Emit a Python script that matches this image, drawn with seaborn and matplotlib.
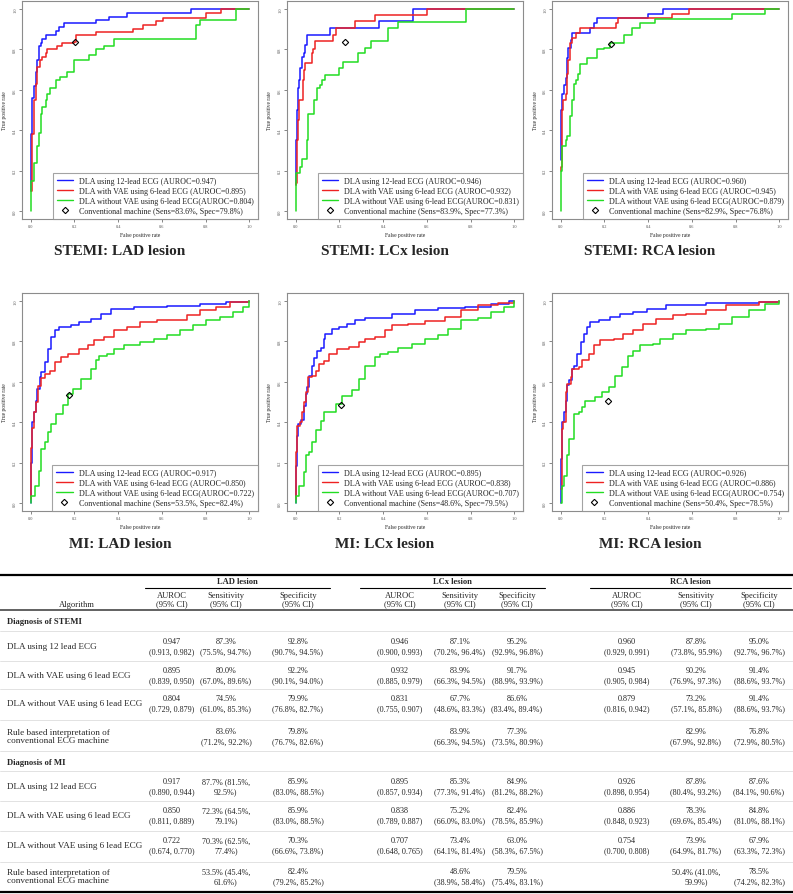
import matplotlib
matplotlib.use("Agg")
import matplotlib.pyplot as plt
from matplotlib.lines import Line2D
import pandas as pd
import seaborn as sns

# ---- ROC curve points (fpr, tpr) ----
stemi_lad_12 = [(0, 0.1), (0.003, 0.38), (0.005, 0.56), (0.015, 0.62), (0.023, 0.69), (0.03, 0.75),
                (0.038, 0.815), (0.045, 0.83), (0.053, 0.85), (0.068, 0.87), (0.114, 0.89), (0.129, 0.91),
                (0.15, 0.93), (0.30, 0.946), (0.356, 0.963), (0.44, 0.98), (0.735, 1.0), (1.0, 1.0)]
stemi_lad_vae = [(0, 0.1), (0.005, 0.38), (0.015, 0.55), (0.023, 0.63), (0.03, 0.715), (0.042, 0.75),
                 (0.053, 0.765), (0.068, 0.78), (0.076, 0.80), (0.12, 0.815), (0.144, 0.83), (0.197, 0.836),
                 (0.205, 0.87), (0.30, 0.886), (0.47, 0.90), (0.515, 0.92), (0.575, 0.94), (0.606, 0.955),
                 (0.80, 0.98), (0.87, 1.0), (1.0, 1.0)]
stemi_lad_novae = [(0, 0), (0.003, 0.15), (0.015, 0.235), (0.027, 0.32), (0.038, 0.385), (0.045, 0.48),
                   (0.053, 0.515), (0.068, 0.55), (0.076, 0.58), (0.09, 0.61), (0.114, 0.65), (0.136, 0.665),
                   (0.167, 0.69), (0.197, 0.75), (0.265, 0.773), (0.30, 0.80), (0.333, 0.815), (0.38, 0.85),
                   (0.742, 0.85), (0.758, 0.92), (0.773, 0.946), (0.91, 0.946), (0.94, 1.0), (1.0, 1.0)]

stemi_lcx_12 = [(0, 0.13), (0.003, 0.35), (0.006, 0.5), (0.012, 0.61), (0.017, 0.65), (0.021, 0.71),
                (0.027, 0.765), (0.039, 0.78), (0.042, 0.82), (0.05, 0.873), (0.156, 0.906), (0.383, 0.94),
                (0.535, 1.0), (1.0, 1.0)]
stemi_lcx_vae = [(0, 0.13), (0.003, 0.136), (0.008, 0.35), (0.012, 0.45), (0.017, 0.55), (0.032, 0.65),
                 (0.036, 0.70), (0.042, 0.735), (0.073, 0.78), (0.08, 0.80), (0.088, 0.84), (0.17, 0.873),
                 (0.186, 0.906), (0.273, 0.94), (0.364, 0.97), (0.6, 1.0), (1.0, 1.0)]
stemi_lcx_novae = [(0, 0), (0.003, 0.19), (0.02, 0.22), (0.027, 0.255), (0.05, 0.35), (0.058, 0.48),
                   (0.085, 0.55), (0.095, 0.61), (0.11, 0.624), (0.118, 0.65), (0.133, 0.674), (0.197, 0.707),
                   (0.217, 0.74), (0.285, 0.78), (0.315, 0.806), (0.345, 0.84), (0.42, 0.906), (0.467, 0.934),
                   (0.777, 1.0), (1.0, 1.0)]

stemi_rca_12 = [(0, 0.25), (0.003, 0.5), (0.008, 0.58), (0.015, 0.624), (0.023, 0.66), (0.03, 0.757),
                (0.033, 0.806), (0.045, 0.848), (0.053, 0.88), (0.136, 0.906), (0.151, 0.93), (0.166, 0.955),
                (0.40, 0.977), (0.47, 1.0), (1.0, 1.0)]
stemi_rca_vae = [(0, 0.2), (0.002, 0.22), (0.006, 0.5), (0.012, 0.55), (0.023, 0.58), (0.027, 0.68),
                 (0.033, 0.748), (0.042, 0.83), (0.053, 0.856), (0.072, 0.88), (0.09, 0.906), (0.254, 0.93),
                 (0.264, 0.955), (0.51, 0.977), (0.586, 1.0), (1.0, 1.0)]
stemi_rca_novae = [(0, 0), (0.002, 0.2), (0.008, 0.32), (0.023, 0.35), (0.03, 0.37), (0.042, 0.47),
                   (0.053, 0.55), (0.06, 0.63), (0.072, 0.65), (0.078, 0.68), (0.088, 0.73), (0.12, 0.757),
                   (0.166, 0.8), (0.196, 0.806), (0.227, 0.83), (0.29, 0.873), (0.325, 0.906), (0.363, 0.93),
                   (0.43, 0.95), (0.785, 0.977), (0.934, 1.0), (1.0, 1.0)]

mi_lad_12 = [(0, 0.0), (0.003, 0.2), (0.006, 0.4), (0.014, 0.45), (0.023, 0.507), (0.03, 0.565),
             (0.041, 0.623), (0.048, 0.648), (0.063, 0.698), (0.079, 0.764), (0.094, 0.82), (0.109, 0.855),
             (0.131, 0.87), (0.184, 0.88), (0.222, 0.896), (0.275, 0.912), (0.32, 0.937), (0.366, 0.959),
             (0.471, 0.97), (0.622, 0.975), (0.773, 0.987), (0.894, 0.995), (1.0, 1.0)]
mi_lad_vae = [(0, 0.02), (0.003, 0.27), (0.006, 0.37), (0.014, 0.45), (0.026, 0.5), (0.033, 0.58),
              (0.048, 0.62), (0.063, 0.64), (0.086, 0.656), (0.109, 0.698), (0.139, 0.722), (0.169, 0.74),
              (0.222, 0.764), (0.26, 0.78), (0.29, 0.805), (0.335, 0.82), (0.38, 0.855), (0.44, 0.87),
              (0.50, 0.896), (0.577, 0.904), (0.637, 0.904), (0.713, 0.93), (0.773, 0.954), (0.849, 0.97),
              (0.91, 0.995), (1.0, 1.0)]
mi_lad_novae = [(0, 0), (0.003, 0.036), (0.018, 0.086), (0.038, 0.16), (0.045, 0.268), (0.063, 0.3),
                (0.079, 0.35), (0.094, 0.39), (0.116, 0.44), (0.147, 0.483), (0.169, 0.54), (0.192, 0.565),
                (0.23, 0.615), (0.275, 0.665), (0.298, 0.707), (0.313, 0.73), (0.35, 0.74), (0.38, 0.764),
                (0.426, 0.78), (0.50, 0.797), (0.562, 0.814), (0.622, 0.83), (0.683, 0.855), (0.743, 0.88),
                (0.804, 0.904), (0.864, 0.92), (0.924, 0.945), (0.97, 0.97), (1.0, 1.0)]

mi_lcx_12 = [(0, 0.0), (0.003, 0.185), (0.006, 0.334), (0.012, 0.39), (0.023, 0.41), (0.038, 0.48),
             (0.045, 0.54), (0.053, 0.574), (0.061, 0.63), (0.073, 0.68), (0.083, 0.72), (0.098, 0.755),
             (0.114, 0.77), (0.129, 0.813), (0.136, 0.838), (0.167, 0.863), (0.197, 0.87), (0.235, 0.888),
             (0.273, 0.904), (0.318, 0.916), (0.44, 0.937), (0.545, 0.954), (0.652, 0.965), (0.773, 0.97),
             (0.894, 0.987), (0.977, 1.0), (1.0, 1.0)]
mi_lcx_vae = [(0, 0.02), (0.003, 0.25), (0.008, 0.383), (0.018, 0.4), (0.027, 0.45), (0.038, 0.5),
              (0.045, 0.55), (0.058, 0.623), (0.076, 0.63), (0.091, 0.656), (0.106, 0.69), (0.129, 0.705),
              (0.152, 0.74), (0.19, 0.764), (0.242, 0.773), (0.288, 0.797), (0.318, 0.814), (0.364, 0.822),
              (0.41, 0.855), (0.44, 0.88), (0.515, 0.888), (0.59, 0.9), (0.682, 0.92), (0.758, 0.954),
              (0.833, 0.983), (0.924, 0.99), (1.0, 1.0)]
mi_lcx_novae = [(0, 0), (0.003, 0.036), (0.015, 0.086), (0.038, 0.152), (0.045, 0.235), (0.061, 0.25),
                (0.076, 0.3), (0.091, 0.36), (0.114, 0.408), (0.129, 0.45), (0.167, 0.45), (0.182, 0.49),
                (0.212, 0.532), (0.258, 0.557), (0.288, 0.615), (0.318, 0.68), (0.364, 0.722), (0.386, 0.739),
                (0.424, 0.747), (0.47, 0.77), (0.53, 0.788), (0.59, 0.814), (0.652, 0.83), (0.697, 0.863),
                (0.758, 0.904), (0.833, 0.916), (0.894, 0.945), (0.955, 0.97), (1.0, 1.0)]

mi_rca_12 = [(0, 0.0), (0.003, 0.218), (0.006, 0.4), (0.015, 0.45), (0.023, 0.507), (0.03, 0.582),
             (0.038, 0.607), (0.053, 0.664), (0.06, 0.68), (0.076, 0.74), (0.091, 0.797), (0.106, 0.838),
             (0.12, 0.87), (0.136, 0.896), (0.174, 0.904), (0.227, 0.92), (0.272, 0.937), (0.332, 0.945),
             (0.393, 0.962), (0.483, 0.98), (0.665, 0.99), (0.906, 0.995), (1.0, 1.0)]
mi_rca_vae = [(0, 0.07), (0.005, 0.367), (0.011, 0.4), (0.023, 0.55), (0.03, 0.59), (0.045, 0.623),
              (0.053, 0.664), (0.083, 0.673), (0.098, 0.706), (0.128, 0.739), (0.151, 0.78), (0.181, 0.805),
              (0.242, 0.814), (0.287, 0.838), (0.332, 0.855), (0.378, 0.888), (0.438, 0.912), (0.514, 0.93),
              (0.574, 0.937), (0.665, 0.954), (0.755, 0.98), (0.906, 0.995), (1.0, 1.0)]
mi_rca_novae = [(0, 0), (0.005, 0.086), (0.015, 0.135), (0.03, 0.235), (0.038, 0.317), (0.06, 0.44),
                (0.083, 0.45), (0.098, 0.474), (0.113, 0.507), (0.159, 0.524), (0.189, 0.549), (0.219, 0.574),
                (0.249, 0.631), (0.279, 0.673), (0.31, 0.73), (0.332, 0.755), (0.363, 0.78), (0.423, 0.788),
                (0.453, 0.814), (0.514, 0.838), (0.574, 0.855), (0.665, 0.863), (0.725, 0.888), (0.785, 0.92),
                (0.861, 0.954), (0.937, 0.987), (1.0, 1.0)]

panel_titles = ["STEMI: LAD lesion", "STEMI: LCx lesion", "STEMI: RCA lesion",
                "MI: LAD lesion", "MI: LCx lesion", "MI: RCA lesion"]
curves_12 = [stemi_lad_12, stemi_lcx_12, stemi_rca_12, mi_lad_12, mi_lcx_12, mi_rca_12]
curves_vae = [stemi_lad_vae, stemi_lcx_vae, stemi_rca_vae, mi_lad_vae, mi_lcx_vae, mi_rca_vae]
curves_novae = [stemi_lad_novae, stemi_lcx_novae, stemi_rca_novae, mi_lad_novae, mi_lcx_novae, mi_rca_novae]
auroc_12 = ["0.947", "0.946", "0.960", "0.917", "0.895", "0.926"]
auroc_vae = ["0.895", "0.932", "0.945", "0.850", "0.838", "0.886"]
auroc_novae = ["0.804", "0.831", "0.879", "0.722", "0.707", "0.754"]
machine_sens = [83.6, 83.9, 82.9, 53.5, 48.6, 50.4]
machine_spec = [79.8, 77.3, 76.8, 82.4, 79.5, 78.5]

# ---- table ----
lesions = ["LAD lesion", "LCx lesion", "RCA lesion"]
metrics = ["AUROC\n(95% CI)", "Sensitivity\n(95% CI)", "Specificity\n(95% CI)"]
algorithms = ["DLA using 12 lead ECG", "DLA with VAE using 6 lead ECG",
              "DLA without VAE using 6 lead ECG", "Rule based interpretation of\nconventional ECG machine"]
stemi_rows = [
    ["0.947\n(0.913, 0.982)", "87.3%\n(75.5%, 94.7%)", "92.8%\n(90.7%, 94.5%)",
     "0.946\n(0.900, 0.993)", "87.1%\n(70.2%, 96.4%)", "95.2%\n(92.9%, 96.8%)",
     "0.960\n(0.929, 0.991)", "87.8%\n(73.8%, 95.9%)", "95.0%\n(92.7%, 96.7%)"],
    ["0.895\n(0.839, 0.950)", "80.0%\n(67.0%, 89.6%)", "92.2%\n(90.1%, 94.0%)",
     "0.932\n(0.885, 0.979)", "83.9%\n(66.3%, 94.5%)", "91.7%\n(88.9%, 93.9%)",
     "0.945\n(0.905, 0.984)", "90.2%\n(76.9%, 97.3%)", "91.4%\n(88.6%, 93.7%)"],
    ["0.804\n(0.729, 0.879)", "74.5%\n(61.0%, 85.3%)", "79.9%\n(76.8%, 82.7%)",
     "0.831\n(0.755, 0.907)", "67.7%\n(48.6%, 83.3%)", "86.6%\n(83.4%, 89.4%)",
     "0.879\n(0.816, 0.942)", "73.2%\n(57.1%, 85.8%)", "91.4%\n(88.6%, 93.7%)"],
    ["", "83.6%\n(71.2%, 92.2%)", "79.8%\n(76.7%, 82.6%)",
     "", "83.9%\n(66.3%, 94.5%)", "77.3%\n(73.5%, 80.9%)",
     "", "82.9%\n(67.9%, 92.8%)", "76.8%\n(72.9%, 80.5%)"],
]
mi_rows = [
    ["0.917\n(0.890, 0.944)", "87.7% (81.5%,\n92.5%)", "85.9%\n(83.0%, 88.5%)",
     "0.895\n(0.857, 0.934)", "85.3%\n(77.3%, 91.4%)", "84.9%\n(81.2%, 88.2%)",
     "0.926\n(0.898, 0.954)", "87.8%\n(80.4%, 93.2%)", "87.6%\n(84.1%, 90.6%)"],
    ["0.850\n(0.811, 0.889)", "72.3% (64.5%,\n79.1%)", "85.9%\n(83.0%, 88.5%)",
     "0.838\n(0.789, 0.887)", "75.2%\n(66.0%, 83.0%)", "82.4%\n(78.5%, 85.9%)",
     "0.886\n(0.848, 0.923)", "78.3%\n(69.6%, 85.4%)", "84.8%\n(81.0%, 88.1%)"],
    ["0.722\n(0.674, 0.770)", "70.3% (62.5%,\n77.4%)", "70.3%\n(66.6%, 73.8%)",
     "0.707\n(0.648, 0.765)", "73.4%\n(64.1%, 81.4%)", "63.0%\n(58.3%, 67.5%)",
     "0.754\n(0.700, 0.808)", "73.9%\n(64.9%, 81.7%)", "67.9%\n(63.3%, 72.3%)"],
    ["", "53.5% (45.4%,\n61.6%)", "82.4%\n(79.2%, 85.2%)",
     "", "48.6%\n(38.9%, 58.4%)", "79.5%\n(75.4%, 83.1%)",
     "", "50.4% (41.0%,\n59.9%)", "78.5%\n(74.2%, 82.3%)"],
]

sns.set_theme(style="white")
plt.rcParams['font.family'] = ['Liberation Serif', 'DejaVu Serif']

W, H = 793, 895
fig = plt.figure(figsize=(W / 100, H / 100), dpi=100)

# table drawn on a full-figure axes in pixel coordinates
tab = fig.add_axes([0, 0, 1, 1])
tab.set_xlim(0, W)
tab.set_ylim(H, 0)
tab.axis('off')
tab.patch.set_alpha(0)

col_x = [172, 226, 298, 400, 460, 517, 627, 696, 759]
group_x = [(145, 330), (360, 545), (590, 791)]
fs_lab = 6.6
fs_cell = 5.9
fs_head = 6.1

tab.plot([0, W], [576, 576], color='black', lw=1.6)
for (x0, x1), name in zip(group_x, lesions):
    tab.text((x0 + x1) / 2, 582, name, ha='center', va='center', fontsize=fs_head, fontweight='bold')
    tab.plot([x0, x1], [588.5, 588.5], color='black', lw=0.8)
for i, cx in enumerate(col_x):
    tab.text(cx, 600, metrics[i % 3], ha='center', va='center', fontsize=fs_head, linespacing=1.15)
tab.text(77, 605, "Algorithm", ha='center', va='center', fontsize=fs_head)
tab.plot([0, W], [611, 611], color='#555555', lw=1.3)


def draw_block(rows, label, y_label, y_line, centers, sep_lines):
    tab.text(7, y_label, label, ha='left', va='center', fontsize=fs_lab - 0.4, fontweight='bold')
    tab.plot([0, W], [y_line, y_line], color='#dddddd', lw=0.6)
    for r, cy in enumerate(centers):
        tab.text(7, cy, algorithms[r], ha='left', va='center', fontsize=fs_lab, linespacing=1.15)
        for c, cx in enumerate(col_x):
            if rows[r][c]:
                tab.text(cx, cy, rows[r][c], ha='center', va='center', fontsize=fs_cell,
                         linespacing=1.3)
    for yl in sep_lines:
        tab.plot([0, W], [yl, yl], color='#dddddd', lw=0.6)


draw_block(stemi_rows, "Diagnosis of STEMI", 622, 632, [647, 676, 704, 737], [662, 690, 721, 752])
draw_block(mi_rows, "Diagnosis of MI", 763, 772, [787, 816, 846, 877], [802, 832, 863])
tab.plot([0, W], [893, 893], color='black', lw=1.6)

# ROC panels
lefts = [22, 287, 552]
tops = [2, 294]
bw, bh = 236, 218
colors = ['#1a1aff', '#ee2222', '#22dd22']
frame_col = '#8c8c8c'

for k in range(6):
    left = lefts[k % 3]
    top = tops[k // 3]
    ax = fig.add_axes([left / W, 1 - (top + bh) / H, bw / W, bh / H])
    ax.set_facecolor('white')
    frames = []
    for name, pts in zip(["12", "vae", "novae"], [curves_12[k], curves_vae[k], curves_novae[k]]):
        d = pd.DataFrame(pts, columns=['fpr', 'tpr'])
        d['model'] = name
        frames.append(d)
    df = pd.concat(frames, ignore_index=True)
    sns.lineplot(data=df, x='fpr', y='tpr', hue='model', palette=colors, estimator=None,
                 sort=False, drawstyle='steps-post', lw=1.1, legend=False, ax=ax)
    ax.plot([1 - machine_spec[k] / 100], [machine_sens[k] / 100], marker='D', ls='', mfc='none',
            mec='black', ms=3.2, mew=0.8)
    ax.set_xlim(-0.04, 1.04)
    ax.set_ylim(-0.04, 1.04)
    ax.set_xticks([0, 0.2, 0.4, 0.6, 0.8, 1.0])
    ax.set_yticks([0, 0.2, 0.4, 0.6, 0.8, 1.0])
    ax.set_xticklabels(["0.0", "0.2", "0.4", "0.6", "0.8", "1.0"])
    ax.set_yticklabels(["0.0", "0.2", "0.4", "0.6", "0.8", "1.0"], rotation=90, va='center')
    ax.tick_params(labelsize=3.2, length=2, width=0.5, pad=1.5, colors='#555555',
                   bottom=True, left=True)
    ax.set_xlabel("")
    ax.set_ylabel("")
    for s in ax.spines.values():
        s.set_color(frame_col)
        s.set_linewidth(0.8)
    ax.text(0.5, -16 / bh, "False positive rate", transform=ax.transAxes, ha='center', va='center',
            fontsize=4)
    ax.text(-17 / bw, 0.5, "True positive rate", transform=ax.transAxes, ha='center', va='center',
            fontsize=4, rotation=90)
    handles = [Line2D([], [], color=colors[0], lw=1.0), Line2D([], [], color=colors[1], lw=1.0),
               Line2D([], [], color=colors[2], lw=1.0),
               Line2D([], [], ls='', marker='D', mfc='none', mec='black', ms=3.2, mew=0.8)]
    labels = [f"DLA using 12-lead ECG (AUROC={auroc_12[k]})",
              f"DLA with VAE using 6-lead ECG (AUROC={auroc_vae[k]})",
              f"DLA without VAE using 6-lead ECG(AUROC={auroc_novae[k]})",
              f"Conventional machine (Sens={machine_sens[k]}%, Spec={machine_spec[k]}%)"]
    leg = ax.legend(handles, labels, loc='lower right', borderaxespad=0, fontsize=5.8, frameon=True,
                    fancybox=False, handlelength=2.0, handletextpad=0.8, labelspacing=0.25,
                    borderpad=0.5)
    leg.get_frame().set_edgecolor(frame_col)
    leg.get_frame().set_linewidth(0.8)
    fig.text((left + 98) / W, 1 - (top + bh + 32) / H, panel_titles[k], ha='center', va='center',
             fontsize=11, fontweight='bold')

fig.savefig("out.png", dpi=100)
